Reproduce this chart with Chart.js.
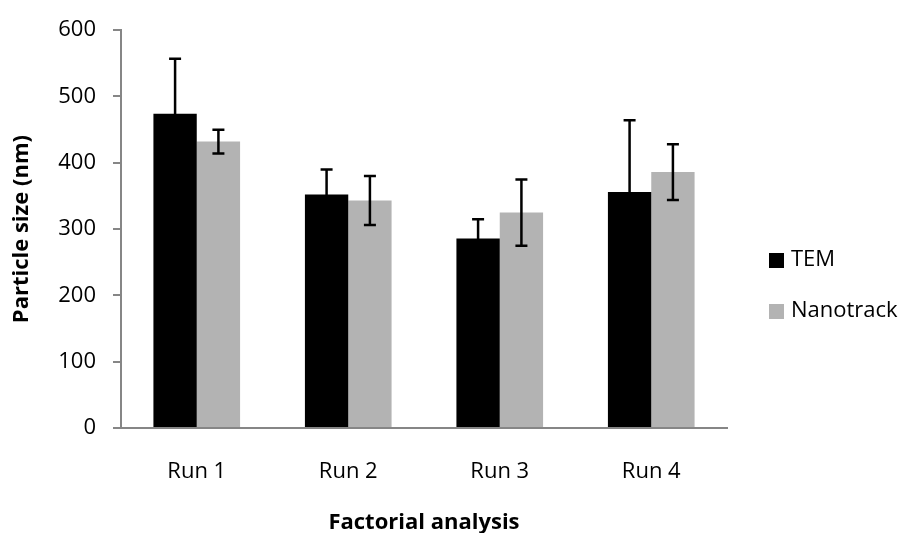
<!DOCTYPE html>
<html lang="en">
<head>
  <meta charset="UTF-8">
  <title>Particle size by run</title>
  <script src="https://cdn.jsdelivr.net/npm/chart.js"></script>
  <style>
    body {
      margin: 0;
      background: #ffffff;
      overflow: hidden;
    }
    .chart-container {
      position: relative;
      width: 906px;
      height: 533px;
    }
  </style>
</head>
<body>
  <div class="chart-container">
    <canvas id="sizeChart"></canvas>
  </div>

  <script>
    // values
    const runs = ['Run 1', 'Run 2', 'Run 3', 'Run 4'];
    const temValues = [474, 352, 286, 356];
    const temErrors = [83, 38, 29, 108];
    const nanoValues = [432, 343, 325, 386];
    const nanoErrors = [18, 37, 50, 42];
    const yTicks = [0, 100, 200, 300, 400, 500, 600];

    const FONT = "'Open Sans', sans-serif";
    const axisGrey = '#868686';

    // error bars, drawn from each bar's value through the y scale
    const errorBars = {
      id: 'errorBars',
      afterDatasetsDraw(chart) {
        const ctx = chart.ctx;
        const yScale = chart.scales.y;
        ctx.save();
        ctx.strokeStyle = '#000';
        ctx.lineWidth = 2.5;
        chart.data.datasets.forEach((ds, i) => {
          const meta = chart.getDatasetMeta(i);
          meta.data.forEach((bar, j) => {
            const v = ds.data[j];
            const e = ds.errors[j];
            const x = bar.x;
            const top = yScale.getPixelForValue(v + e);
            const bottom = yScale.getPixelForValue(v - e);
            ctx.beginPath();
            ctx.moveTo(x, top);
            ctx.lineTo(x, bottom);
            ctx.moveTo(x - 6, top);
            ctx.lineTo(x + 6, top);
            ctx.moveTo(x - 6, bottom);
            ctx.lineTo(x + 6, bottom);
            ctx.stroke();
          });
        });
        ctx.restore();
      }
    };

    // legend on the right, Excel style
    const sideLegend = {
      id: 'sideLegend',
      afterDraw(chart) {
        const ctx = chart.ctx;
        ctx.save();
        ctx.font = '22px ' + FONT;
        ctx.textBaseline = 'middle';
        ctx.textAlign = 'left';
        chart.data.datasets.forEach((ds, i) => {
          const y = 260 + i * 51;
          ctx.fillStyle = ds.backgroundColor;
          ctx.fillRect(769, y - 7, 15, 15);
          ctx.fillStyle = '#000';
          ctx.fillText(ds.label, 791, y);
        });
        ctx.restore();
      }
    };

    const ctx = document.getElementById('sizeChart').getContext('2d');
    const chart = new Chart(ctx, {
      type: 'bar',
      data: {
        labels: runs,
        datasets: [
          {
            label: 'TEM',
            data: temValues,
            errors: temErrors,
            backgroundColor: '#000000'
          },
          {
            label: 'Nanotrack',
            data: nanoValues,
            errors: nanoErrors,
            backgroundColor: '#b3b3b3'
          }
        ]
      },
      options: {
        responsive: true,
        maintainAspectRatio: false,
        animation: false,
        layout: {
          padding: { top: 26, right: 179, bottom: 0, left: 0 }
        },
        plugins: {
          legend: { display: false },
          tooltip: { enabled: false }
        },
        datasets: {
          bar: {
            barPercentage: 1,
            categoryPercentage: 0.572
          }
        },
        scales: {
          x: {
            grid: { display: false, drawTicks: false },
            border: { display: true, color: axisGrey, width: 2 },
            ticks: {
              color: '#000',
              padding: 31,
              font: { family: FONT, size: 22 }
            },
            title: {
              display: true,
              text: 'Factorial analysis',
              color: '#000',
              padding: { top: 0, bottom: -3 },
              font: { family: FONT, size: 22, weight: 'bold' }
            },
            afterFit(scale) {
              scale.height = 105;
            }
          },
          y: {
            min: 0,
            max: 600,
            afterBuildTicks(scale) {
              scale.ticks = yTicks.map(v => ({ value: v }));
            },
            grid: {
              drawOnChartArea: false,
              drawTicks: true,
              tickLength: 8,
              color: axisGrey,
              lineWidth: 2
            },
            border: { display: true, color: axisGrey, width: 2 },
            ticks: {
              color: '#000',
              padding: 17,
              font: { family: FONT, size: 22 }
            },
            title: {
              display: true,
              text: 'Particle size (nm)',
              color: '#000',
              padding: { top: 9, bottom: 0 },
              font: { family: FONT, size: 22, weight: 'bold' }
            },
            afterFit(scale) {
              scale.width = 121;
            }
          }
        }
      },
      plugins: [errorBars, sideLegend]
    });
  </script>
</body>
</html>
